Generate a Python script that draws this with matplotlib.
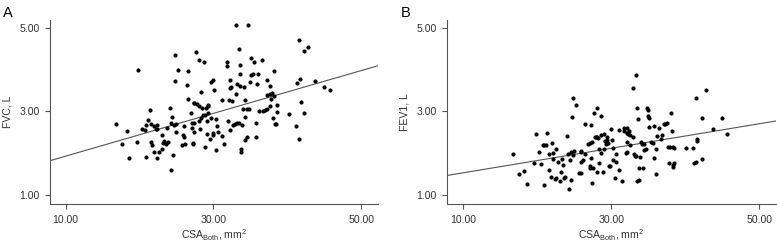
import matplotlib
matplotlib.use('Agg')
import matplotlib.pyplot as plt
import numpy as np

plt.rcParams['font.family'] = ['Liberation Sans', 'DejaVu Sans']
plt.rcParams['mathtext.fontset'] = 'custom'
plt.rcParams['mathtext.rm'] = 'Liberation Sans'

# Panel A: CSA (mm^2) vs FVC (L)
csa_a = [16.85, 17.6, 18.3, 18.6, 19.8, 19.6, 20.4, 20.7, 20.9, 20.9, 21.2, 21.4, 21.5, 21.6, 21.7,
         21.9, 22.0, 22.2, 22.3, 22.4, 22.4, 22.6, 23.0, 23.1, 23.2, 23.3, 23.6, 23.7, 23.8, 24.1,
         24.2, 24.3, 24.4, 24.5, 24.6, 24.8, 24.8, 24.9, 24.9, 25.2, 25.8, 25.9, 26.0, 26.0, 26.1,
         26.4, 26.5, 26.5, 27.0, 27.1, 27.1, 27.2, 27.2, 27.3, 27.3, 27.4, 27.4, 27.7, 27.8, 28.0,
         28.1, 28.1, 28.2, 28.3, 28.3, 28.4, 28.6, 28.7, 28.8, 28.9, 29.0, 29.1, 29.1, 29.2, 29.3,
         29.3, 29.5, 29.6, 29.7, 29.9, 29.9, 30.0, 30.1, 30.4, 30.4, 30.5, 30.6, 31.1, 31.1, 31.4,
         31.8, 31.8, 32.0, 32.1, 32.2, 32.2, 32.3, 32.4, 32.5, 32.7, 32.9, 33.0, 33.0, 33.2, 33.2,
         33.4, 33.5, 33.6, 33.6, 33.6, 33.7, 33.7, 33.9, 34.0, 34.1, 34.3, 34.3, 34.3, 34.5, 34.5,
         34.7, 34.8, 35.0, 35.1, 35.1, 35.3, 35.5, 35.8, 35.8, 35.9, 36.0, 36.2, 36.5, 36.7, 37.0,
         37.2, 37.3, 37.3, 37.6, 37.7, 37.7, 37.8, 37.9, 38.1, 38.2, 38.2, 38.3, 38.5, 38.6, 38.6,
         40.2, 41.1, 41.3, 41.5, 41.5, 41.7, 41.8, 42.2, 42.3, 42.8, 43.7, 45.0, 45.7]
fvc = [2.69, 2.22, 2.53, 1.88, 3.98, 2.27, 2.58, 2.56, 2.67, 1.90, 2.80, 3.03, 2.71, 2.26, 2.20,
       2.02, 2.64, 2.58, 2.68, 2.57, 1.89, 2.04, 2.44, 2.11, 2.24, 2.29, 2.23, 2.61, 2.26, 3.08,
       2.73, 1.59, 2.86, 1.95, 2.68, 3.72, 4.34, 2.69, 2.50, 3.98, 2.19, 2.43, 2.66, 2.40, 2.22,
       3.63, 3.30, 3.96, 2.95, 2.73, 2.61, 2.25, 2.23, 2.73, 3.19, 2.50, 3.21, 4.42, 3.17, 2.77,
       4.23, 3.12, 2.59, 3.47, 2.84, 3.08, 2.92, 4.17, 2.92, 2.16, 3.08, 2.47, 2.77, 3.16, 2.97,
       3.12, 2.34, 3.71, 2.84, 2.44, 3.74, 2.48, 3.50, 2.82, 2.09, 2.65, 2.50, 2.41, 3.28, 2.23,
       4.17, 4.09, 2.76, 3.28, 2.55, 3.74, 3.56, 3.59, 3.25, 2.68, 2.69, 5.07, 3.41, 3.66, 2.72,
       4.50, 2.73, 3.90, 4.11, 3.61, 2.10, 2.03, 2.68, 3.06, 3.57, 2.86, 2.32, 3.28, 3.06, 2.40,
       5.07, 3.05, 3.70, 4.27, 3.86, 3.90, 4.17, 2.73, 2.40, 3.65, 3.88, 3.02, 4.23, 3.00, 3.04,
       3.05, 3.74, 3.39, 3.61, 3.42, 3.12, 3.29, 3.43, 2.83, 3.96, 3.37, 2.70, 2.70, 3.15, 2.98,
       2.94, 2.65, 3.67, 4.71, 2.33, 3.77, 3.22, 2.95, 4.43, 4.53, 3.73, 3.58, 3.51]

# Panel B: CSA (mm^2) vs FEV1 (L)
csa_b = [16.8, 17.6, 18.3, 18.6, 19.8, 19.6, 20.3, 20.6, 20.8, 20.9, 21.0, 21.3, 21.2, 21.6, 21.6,
         21.9, 22.0, 22.1, 22.2, 22.4, 22.5, 22.6, 22.9, 23.1, 23.2, 23.4, 23.5, 23.7, 23.8, 24.1,
         24.2, 24.3, 24.4, 24.6, 24.6, 24.7, 24.8, 24.8, 25.0, 25.2, 25.7, 26.0, 26.0, 25.9, 26.0,
         26.2, 26.5, 26.5, 26.9, 27.1, 27.1, 27.2, 27.3, 27.3, 27.4, 27.4, 27.6, 27.7, 27.8, 27.9,
         28.1, 28.1, 28.1, 28.2, 28.3, 28.4, 28.6, 28.7, 28.7, 28.9, 29.0, 29.1, 29.2, 29.3, 29.4,
         29.4, 29.6, 29.7, 29.9, 30.0, 30.1, 30.2, 30.3, 30.5, 30.6, 30.7, 31.1, 31.1, 31.4, 31.8,
         31.8, 32.0, 32.1, 32.1, 32.2, 32.2, 32.3, 32.4, 32.5, 32.6, 32.9, 32.9, 33.1, 33.2, 33.3,
         33.4, 33.5, 33.6, 33.5, 33.7, 33.8, 33.9, 34.0, 34.1, 34.3, 34.4, 34.5, 34.7, 34.8, 35.0,
         35.0, 35.1, 35.1, 35.4, 35.6, 35.8, 35.8, 36.0, 36.1, 36.2, 36.4, 36.7, 36.8, 37.1, 37.3,
         37.6, 37.7, 37.8, 38.0, 38.1, 38.2, 38.3, 38.4, 38.4, 38.5, 38.5, 40.1, 41.1, 41.2, 41.4,
         41.4, 41.6, 41.6, 42.2, 42.2, 42.8, 43.7, 44.9, 45.6]
fev1 = [1.99, 1.50, 1.57, 1.27, 2.45, 1.76, 2.04, 1.74, 2.19, 1.25, 2.19, 2.48, 2.19, 1.99, 1.60,
        1.44, 2.24, 2.00, 1.86, 1.39, 2.11, 1.41, 1.79, 1.35, 1.56, 1.87, 1.71, 1.42, 1.43, 2.42,
        1.98, 1.14, 1.84, 1.37, 2.04, 2.87, 3.33, 1.95, 2.06, 3.16, 1.52, 1.80, 1.53, 2.03, 2.05,
        1.84, 2.69, 1.99, 2.22, 1.70, 1.64, 2.24, 2.67, 1.89, 2.26, 1.29, 1.64, 2.97, 2.38, 2.39,
        3.08, 2.39, 1.55, 2.36, 1.78, 2.11, 2.43, 2.88, 2.01, 1.55, 2.11, 2.45, 2.30, 2.22, 2.38,
        2.32, 2.24, 1.69, 1.70, 2.59, 2.32, 2.13, 1.84, 1.40, 1.99, 1.80, 1.59, 2.56, 1.34, 2.60,
        2.54, 2.00, 2.48, 2.26, 2.61, 2.03, 2.45, 2.54, 2.44, 2.20, 3.55, 2.39, 1.99, 1.94, 3.87,
        1.94, 1.33, 2.81, 3.08, 1.36, 1.66, 1.91, 2.27, 2.23, 1.66, 2.07, 2.23, 2.11, 3.08, 3.04,
        2.89, 2.83, 2.62, 2.26, 2.24, 2.65, 1.89, 1.50, 2.11, 2.42, 2.61, 2.34, 2.44, 2.69, 2.69,
        2.72, 2.15, 1.76, 2.15, 2.97, 2.52, 1.72, 1.67, 2.15, 1.78, 2.13, 2.12, 2.12, 1.76, 3.32,
        1.79, 2.33, 2.30, 2.85, 1.87, 3.52, 2.57, 2.85, 2.47]

# fit lines (intercept, slope) as drawn in the figure
fit_a = (1.42, 0.0511)
fit_b = (1.24, 0.0293)

panels = [
    ('A', csa_a, fvc, fit_a, 'FVC, L', [50 / 777, 39 / 243, 327.7 / 777, 184 / 243]),
    ('B', csa_b, fev1, fit_b, 'FEV1, L', [447.3 / 777, 39 / 243, 328.4 / 777, 184 / 243]),
]

fig = plt.figure(figsize=(7.77, 2.43), dpi=100)
axis_color = '#555555'
text_color = '#333333'
fs = 7.6

for letter, xs, ys, fit, ylabel, rect in panels:
    ax = fig.add_axes(rect)
    ax.scatter(xs, ys, s=9, color='black', linewidths=0, zorder=3)
    xl = np.array([7.9, 52.2])
    ax.plot(xl, fit[0] + fit[1] * xl, color='#555555', linewidth=0.8, zorder=2)
    ax.set_xlim(7.9, 52.2)
    ax.set_ylim(0.79, 5.18)
    ax.set_xticks([10, 30, 50])
    ax.set_xticklabels(['10.00', '30.00', '50.00'])
    ax.set_yticks([1, 3, 5])
    ax.set_yticklabels(['1.00', '3.00', '5.00'])
    for side in ['top', 'right']:
        ax.spines[side].set_visible(False)
    for side in ['left', 'bottom']:
        ax.spines[side].set_color(axis_color)
        ax.spines[side].set_linewidth(0.8)
    ax.tick_params(colors=axis_color, labelcolor=text_color, labelsize=fs,
                   length=3.5, width=0.8)
    ax.tick_params(axis='x', pad=4.5)
    ax.tick_params(axis='y', pad=4)
    ax.set_xlabel('CSA$_{\\mathrm{Both}}$, mm$^{2}$', fontsize=fs, color=text_color, labelpad=2)
    ax.set_ylabel(ylabel, fontsize=fs, color=text_color, labelpad=5)
    fig.text(rect[0] - 47 / 777, 0.975, letter, fontsize=10.5, color='black',
             ha='left', va='top')

fig.savefig('out.png', dpi=100)
